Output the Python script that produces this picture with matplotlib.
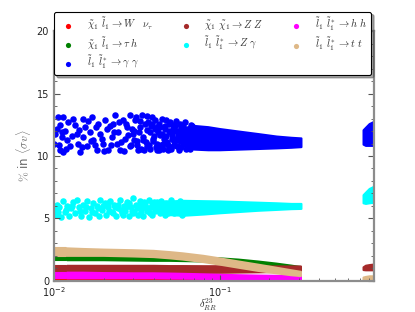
import numpy as np
import matplotlib
matplotlib.use("Agg")
import matplotlib.pyplot as plt
from matplotlib.ticker import MultipleLocator
from matplotlib.font_manager import FontProperties

# scattered part of the two big channels (left side of the plot)
blue_x = [0.0100, 0.0101, 0.0109, 0.0113, 0.0106, 0.0112, 0.0109, 0.0113, 0.0112, 0.0121, 0.0120, 0.0125,
          0.0134, 0.0138, 0.0140, 0.0143, 0.0150, 0.0154, 0.0150, 0.0158, 0.0165, 0.0170, 0.0172, 0.0182,
          0.0184, 0.0189, 0.0198, 0.0203, 0.0209, 0.0212, 0.0224, 0.0227, 0.0233, 0.0240, 0.0243, 0.0250,
          0.0261, 0.0268, 0.0276, 0.0287, 0.0287, 0.0299, 0.0307, 0.0316, 0.0320, 0.0329, 0.0339, 0.0344,
          0.0363, 0.0368, 0.0379, 0.0390, 0.0396, 0.0418, 0.0418, 0.0435, 0.0447, 0.0453, 0.0466, 0.0487,
          0.0500, 0.0514, 0.0535, 0.0550,
          0.0104, 0.0107, 0.0117, 0.0118, 0.0128, 0.0130, 0.0142, 0.0148, 0.0160, 0.0167, 0.0177, 0.0179,
          0.0195, 0.0200, 0.0218, 0.0221, 0.0230, 0.0247, 0.0254, 0.0265, 0.0272, 0.0280, 0.0291, 0.0295,
          0.0303, 0.0311, 0.0325, 0.0334, 0.0353, 0.0358, 0.0363, 0.0374, 0.0384, 0.0401, 0.0406, 0.0412,
          0.0424, 0.0430, 0.0441, 0.0460, 0.0473, 0.0480, 0.0493, 0.0507, 0.0521, 0.0528, 0.0543, 0.0558,
          0.0566, 0.0582, 0.0598, 0.0615, 0.0632, 0.0660, 0.0679, 0.0709, 0.0739]
blue_y = [11.0, 11.8, 12.5, 13.1, 13.1, 11.5, 10.5, 10.35, 11.9, 12.7, 11.3, 10.8,
          12.5, 11.8, 11.0, 10.35, 13.0, 12.3, 11.5, 10.8, 11.9, 13.1, 11.3, 10.5,
          12.6, 11.8, 11.0, 12.9, 12.2, 10.5, 11.5, 12.6, 13.3, 11.0, 11.9, 10.5,
          12.9, 11.4, 12.3, 13.3, 10.8, 11.8, 12.9, 11.2, 10.5, 12.3, 13.3, 11.5,
          10.8, 12.7, 11.9, 13.1, 11.2, 10.5, 12.3, 11.7, 13.0, 11.0, 12.2, 10.5,
          12.7, 11.4, 12.0, 10.8,
          12.2, 10.9, 12.0, 10.6, 11.6, 13.0, 12.1, 10.7, 12.8, 11.2, 10.9, 12.3,
          11.4, 10.4, 12.4, 10.9, 11.9, 12.7, 11.1, 10.4, 12.6, 11.7, 10.9, 12.2,
          11.3, 13.1, 11.9, 10.6, 12.6, 11.1, 13.2, 10.9, 12.4, 11.6, 12.9, 10.7,
          11.9, 12.6, 10.9, 11.4, 12.9, 11.1, 12.0, 10.7, 12.5, 11.2, 12.8, 11.6,
          10.5, 12.3, 11.0, 12.7, 11.8, 10.6, 12.4, 11.3, 12.1]
blue2_x = [0.0305, 0.0318, 0.0331, 0.0347, 0.0352, 0.0366, 0.0381, 0.0393, 0.0399, 0.0409, 0.0421, 0.0428,
           0.0438, 0.0449, 0.0457, 0.0469, 0.0477, 0.0490, 0.0497, 0.0503, 0.0511, 0.0518, 0.0525, 0.0532,
           0.0540, 0.0547, 0.0553, 0.0561, 0.0570, 0.0577, 0.0588, 0.0594, 0.0603, 0.0611, 0.0622, 0.0628,
           0.0641, 0.0651, 0.0665, 0.0672, 0.0690, 0.0700]
blue2_y = [12.0, 10.9, 12.8, 11.3, 10.5, 12.1, 10.6, 12.6, 11.4, 12.2, 11.0, 10.5,
           12.3, 11.8, 10.6, 12.4, 11.6, 10.9, 12.6, 11.9, 10.6, 11.7, 12.2, 10.9,
           12.4, 11.4, 10.8, 12.0, 11.3, 12.6, 10.7, 11.9, 12.4, 11.1, 12.0, 10.6,
           11.5, 12.2, 11.1, 12.5, 11.7, 10.9]

cyan_x = [0.0101, 0.0103, 0.0105, 0.0108, 0.0110, 0.0113, 0.0116, 0.0120, 0.0124, 0.0127, 0.0131, 0.0134,
          0.0138, 0.0141, 0.0146, 0.0150, 0.0154, 0.0158, 0.0162, 0.0167, 0.0172, 0.0176, 0.0181, 0.0186,
          0.0191, 0.0196, 0.0202, 0.0207, 0.0213, 0.0219, 0.0225, 0.0231, 0.0237, 0.0243, 0.0250, 0.0256,
          0.0263, 0.0270, 0.0277, 0.0284, 0.0291, 0.0299, 0.0306, 0.0314, 0.0322, 0.0330, 0.0338, 0.0347,
          0.0356, 0.0365, 0.0374, 0.0384, 0.0393, 0.0403, 0.0414, 0.0424, 0.0435, 0.0446, 0.0458, 0.0470,
          0.0482, 0.0494, 0.0507, 0.0520, 0.0533, 0.0547, 0.0561, 0.0575, 0.0590, 0.0605,
          0.0106, 0.0118, 0.0129, 0.0143, 0.0156, 0.0170, 0.0184, 0.0199, 0.0216, 0.0234, 0.0253, 0.0273,
          0.0295, 0.0318, 0.0343, 0.0370, 0.0398, 0.0430, 0.0463, 0.0500, 0.0540, 0.0583, 0.0620, 0.0640]
cyan_y = [5.7, 5.3, 6.1, 5.9, 5.1, 6.4, 5.5, 6.0, 5.2, 5.8, 6.3, 5.4,
          6.5, 5.9, 5.2, 6.1, 5.6, 6.4, 5.1, 5.8, 6.2, 5.4, 6.0, 5.2,
          6.5, 5.7, 6.2, 5.3, 5.9, 6.4, 5.5, 6.1, 5.2, 5.8, 6.5, 5.4,
          6.0, 5.6, 6.3, 5.2, 5.9, 6.6, 5.5, 6.1, 5.3, 6.4, 5.8, 5.2,
          6.2, 5.6, 6.5, 5.9, 5.3, 6.3, 5.7, 6.0, 5.4, 6.4, 5.8, 5.3,
          6.2, 5.6, 6.5, 5.9, 5.4, 6.1, 5.7, 6.4, 5.3, 6.0,
          5.5, 5.7, 6.0, 5.6, 5.9, 5.5, 5.8, 6.0, 5.6, 5.9, 5.7, 5.9,
          5.6, 5.8, 6.0, 5.7, 5.9, 5.6, 6.0, 5.8, 5.6, 5.9, 5.5, 6.2]
cyan2_x = [0.0212, 0.0228, 0.0245, 0.0262, 0.0282, 0.0302, 0.0326, 0.0335, 0.0350, 0.0361, 0.0378, 0.0389,
           0.0407, 0.0419, 0.0440, 0.0452, 0.0466, 0.0477, 0.0488]
cyan2_y = [6.2, 5.4, 6.1, 5.3, 6.2, 5.4, 6.0, 5.5, 6.3, 5.9, 5.4, 6.2,
           5.6, 6.3, 5.9, 5.5, 6.2, 6.0, 5.4]

# dense part of the blue / cyan channels
dense_x = [0.055, 0.062, 0.07, 0.085, 0.10, 0.13, 0.17, 0.22, 0.27, 0.31]
blue_lo = [11.2, 10.8, 10.55, 10.5, 10.5, 10.55, 10.6, 10.65, 10.7, 10.75]
blue_hi = [11.9, 12.3, 12.45, 12.35, 12.2, 12.0, 11.8, 11.6, 11.5, 11.45]
cyan_dense_x = [0.04, 0.05, 0.06, 0.08, 0.10, 0.13, 0.17, 0.22, 0.27, 0.31]
cyan_lo = [5.6, 5.3, 5.25, 5.35, 5.45, 5.55, 5.65, 5.72, 5.78, 5.8]
cyan_hi = [6.0, 6.4, 6.45, 6.42, 6.4, 6.35, 6.3, 6.25, 6.2, 6.2]

# the small channels form narrow bands (gap near 0.0119)
band_x = [0.0100, 0.0118, 0.0119, 0.0120, 0.015, 0.02, 0.03, 0.04, 0.05, 0.06, 0.08, 0.10, 0.13, 0.17, 0.22, 0.27, 0.31]
nan = np.nan
tan_lo = [2.0, 2.0, nan, 2.0, 2.0, 2.0, 1.95, 1.9, 1.8, 1.7, 1.5, 1.3, 1.05, 0.8, 0.6, 0.45, 0.38]
tan_hi = [2.6, 2.6, nan, 2.6, 2.55, 2.5, 2.45, 2.4, 2.3, 2.2, 2.0, 1.8, 1.55, 1.3, 1.05, 0.85, 0.72]
green_lo = [1.65, 1.65, nan, 1.65, 1.65, 1.65, 1.62, 1.6, 1.6, 1.58, 1.55, 1.5, 1.4, 1.28, 1.12, 0.98, 0.9]
green_hi = [1.95, 1.95, nan, 1.95, 1.95, 1.95, 1.92, 1.9, 1.9, 1.88, 1.85, 1.8, 1.7, 1.55, 1.38, 1.22, 1.1]
brown_lo = [0.62, 0.62, nan, 0.62, 0.62, 0.62, 0.62, 0.62, 0.62, 0.62, 0.63, 0.64, 0.66, 0.68, 0.7, 0.72, 0.75]
brown_hi = [1.2, 1.2, nan, 1.2, 1.2, 1.2, 1.2, 1.2, 1.18, 1.18, 1.17, 1.17, 1.16, 1.15, 1.15, 1.15, 1.15]
mag_lo = [0.2, 0.2, nan, 0.2, 0.2, 0.2, 0.2, 0.2, 0.18, 0.17, 0.15, 0.13, 0.1, 0.08, 0.06, 0.05, 0.05]
mag_hi = [0.65, 0.65, nan, 0.65, 0.65, 0.62, 0.6, 0.6, 0.58, 0.56, 0.52, 0.48, 0.45, 0.42, 0.4, 0.38, 0.36]
red_lo = [0.0, 0.0, nan, 0.0, 0.0, 0.0, 0.0, 0.0, 0.0, 0.0, 0.0, 0.0, 0.0, 0.0, 0.0, 0.0, 0.0]
red_hi = [0.25, 0.25, nan, 0.25, 0.25, 0.24, 0.23, 0.22, 0.21, 0.2, 0.19, 0.18, 0.17, 0.15, 0.14, 0.13, 0.12]

# separate cluster at large delta
far_x = [0.735, 0.76, 0.80, 0.86]
far_blue_lo = [10.95, 10.85, 10.85, 10.85]
far_blue_hi = [12.1, 12.3, 12.6, 12.8]
far_cyan_lo = [6.25, 6.2, 6.25, 6.3]
far_cyan_hi = [6.9, 7.1, 7.4, 7.6]
far_brown_lo = [0.9, 0.88, 0.88, 0.88]
far_brown_hi = [1.12, 1.25, 1.3, 1.35]
far_tan_lo = [0.0, 0.0, 0.0, 0.0]
far_tan_hi = [0.3, 0.35, 0.4, 0.4]

labels = [r'$\tilde{\chi}_1\ \tilde{l}_1 \rightarrow W\ \ \ \nu_\tau$',
          r'$\tilde{\chi}_1\ \tilde{l}_1 \rightarrow \tau\ h$',
          r'$\tilde{l}_1\ \tilde{l}_1^* \rightarrow \gamma\ \gamma$',
          r'$\tilde{\chi}_1\ \tilde{\chi}_1 \rightarrow Z\ Z$',
          r'$\tilde{l}_1\ \tilde{l}_1^* \rightarrow Z\ \gamma$',
          r'$\tilde{l}_1\ \tilde{l}_1^* \rightarrow h\ h$',
          r'$\tilde{l}_1\ \tilde{l}_1^* \rightarrow t\ t$']
colors = ['red', 'green', 'blue', '#a52a2a', 'cyan', 'magenta', 'burlywood']


def band(x, lo, hi, c):
    ax.fill_between(x, lo, hi, color=c, lw=1.5, edgecolor=c)


fig = plt.figure(figsize=(4.15, 3.12), dpi=100)
ax = fig.add_axes([0.13, 0.1, 0.77, 0.8])

for lab, c in zip(labels, colors):
    ax.scatter([], [], s=14, color=c, linewidths=0, label=lab)

band(band_x, red_lo, red_hi, 'red')
band(band_x, green_lo, green_hi, 'green')
band(dense_x, blue_lo, blue_hi, 'blue')
ax.scatter(blue_x + blue2_x, blue_y + blue2_y, s=22, color='blue', linewidths=0)
band(far_x, far_blue_lo, far_blue_hi, 'blue')
band(band_x, brown_lo, brown_hi, '#a52a2a')
band(far_x, far_brown_lo, far_brown_hi, '#a52a2a')
band(cyan_dense_x, cyan_lo, cyan_hi, 'cyan')
ax.scatter(cyan_x + cyan2_x, cyan_y + cyan2_y, s=22, color='cyan', linewidths=0)
band(far_x, far_cyan_lo, far_cyan_hi, 'cyan')
band(band_x, mag_lo, mag_hi, 'magenta')
band(band_x, tan_lo, tan_hi, 'burlywood')
band(far_x, far_tan_lo, far_tan_hi, 'burlywood')

ax.set_xscale('log')
ax.set_xlim(0.01, 0.85)
ax.set_ylim(0, 20)
ax.yaxis.set_major_locator(MultipleLocator(5))
ax.yaxis.set_minor_locator(MultipleLocator(1))

for sp in ax.spines.values():
    sp.set_color('#8c8c8c')
    sp.set_linewidth(1.6)
    sp.set_zorder(3)
ax.tick_params(which='both', direction='in', top=True, right=True, color='#555555',
               labelsize=7, labelcolor='#222222')
ax.tick_params(which='major', length=4, width=0.8)
ax.tick_params(which='minor', length=2, width=0.6)

ax.set_ylabel(r'$\%$ in $\langle\sigma v\rangle$', fontsize=8.5, color='#666666',
              math_fontfamily='cm', labelpad=3)
ax.set_xlabel(r'$\delta^{23}_{RR}$', fontsize=7.5, color='#222222', math_fontfamily='cm')
ax.xaxis.set_label_coords(0.48, -0.062)

leg = ax.legend(loc='upper left', bbox_to_anchor=(0.0, 1.078, 0.993, 0), mode='expand', ncol=3,
                prop=FontProperties(size=7.5, math_fontfamily='cm'), scatterpoints=1,
                frameon=True, fancybox=True, shadow=True, labelspacing=0.25, borderaxespad=0,
                handletextpad=0.8, borderpad=0.35, columnspacing=1.0, handlelength=2.0)
leg.get_frame().set_edgecolor('black')
leg.get_frame().set_linewidth(0.8)
for t in leg.get_texts():
    t.set_color('#333333')

fig.savefig('out.png', dpi=100)
